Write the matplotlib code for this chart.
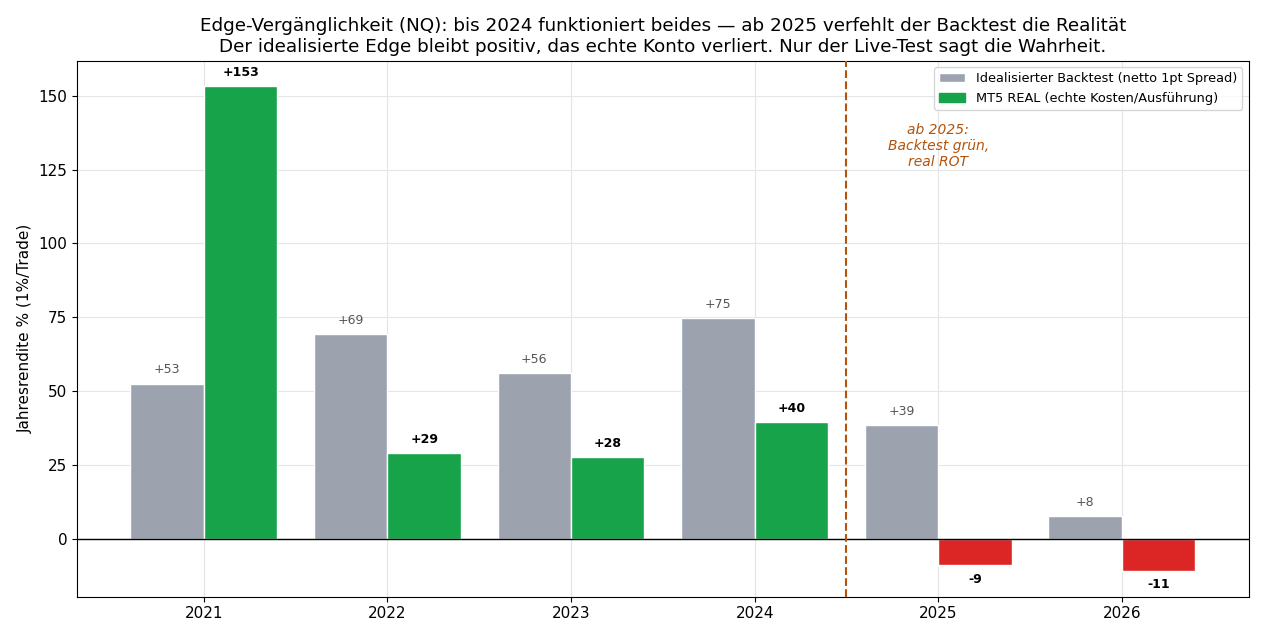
import matplotlib.pyplot as plt
import numpy as np

years = ['2021', '2022', '2023', '2024', '2025', '2026']
backtest = [52.6, 69.3, 56.2, 74.8, 38.6, 7.9]
real = [153.1, 29.1, 27.8, 39.6, -8.8, -10.6]

c_grey = '#9ca3af'
c_green = '#16a34a'
c_red = '#dc2626'
c_note = '#b45309'

fig, ax = plt.subplots(figsize=(12.65, 6.38), dpi=100)

x = np.arange(len(years))
w = 0.4
real_colors = [c_green if v >= 0 else c_red for v in real]

ax.bar(x - w/2, backtest, w, color=c_grey, edgecolor='white', linewidth=1,
       label='Idealisierter Backtest (netto 1pt Spread)', zorder=3)
ax.bar(x + w/2, real, w, color=real_colors, edgecolor='white', linewidth=1,
       label='MT5 REAL (echte Kosten/Ausführung)', zorder=3)

# Werte an die Balken schreiben
for xi, v in zip(x, backtest):
    ax.text(xi - w/2, v + 2.5, f'{v:+.0f}', ha='center', va='bottom',
            fontsize=9, color='#555555')
for xi, v in zip(x, real):
    if v >= 0:
        ax.text(xi + w/2, v + 2.5, f'{v:+.0f}', ha='center', va='bottom',
                fontsize=9, fontweight='bold', color='black')
    else:
        ax.text(xi + w/2, v - 2.5, f'{v:.0f}', ha='center', va='top',
                fontsize=9, fontweight='bold', color='black')

ax.axhline(0, color='black', linewidth=1, zorder=4)
ax.axvline(3.5, color=c_note, linestyle='--', linewidth=1.5, zorder=4)
ax.text(4, 133, 'ab 2025:\nBacktest grün,\nreal ROT', ha='center', va='center',
        fontsize=10, style='italic', color=c_note)

ax.set_xticks(x)
ax.set_xticklabels(years)
ax.tick_params(labelsize=11)
ax.set_xlim(-0.69, 5.69)
ax.set_ylim(-19.3, 161.8)
ax.set_yticks([0, 25, 50, 75, 100, 125, 150])
ax.set_ylabel('Jahresrendite % (1%/Trade)', fontsize=11)
ax.set_title('Edge-Vergänglichkeit (NQ): bis 2024 funktioniert beides — ab 2025 verfehlt der Backtest die Realität\n'
             'Der idealisierte Edge bleibt positiv, das echte Konto verliert. Nur der Live-Test sagt die Wahrheit.',
             fontsize=13.2)
ax.grid(True, color='#e5e5e5', linewidth=0.8, zorder=0)
ax.set_axisbelow(True)

leg = ax.legend(loc='upper right', fontsize=9.3)
leg.legend_handles[1].set_color(c_green)

plt.subplots_adjust(left=0.061, right=0.987, top=0.905, bottom=0.065)
plt.savefig('out.png', dpi=100)
